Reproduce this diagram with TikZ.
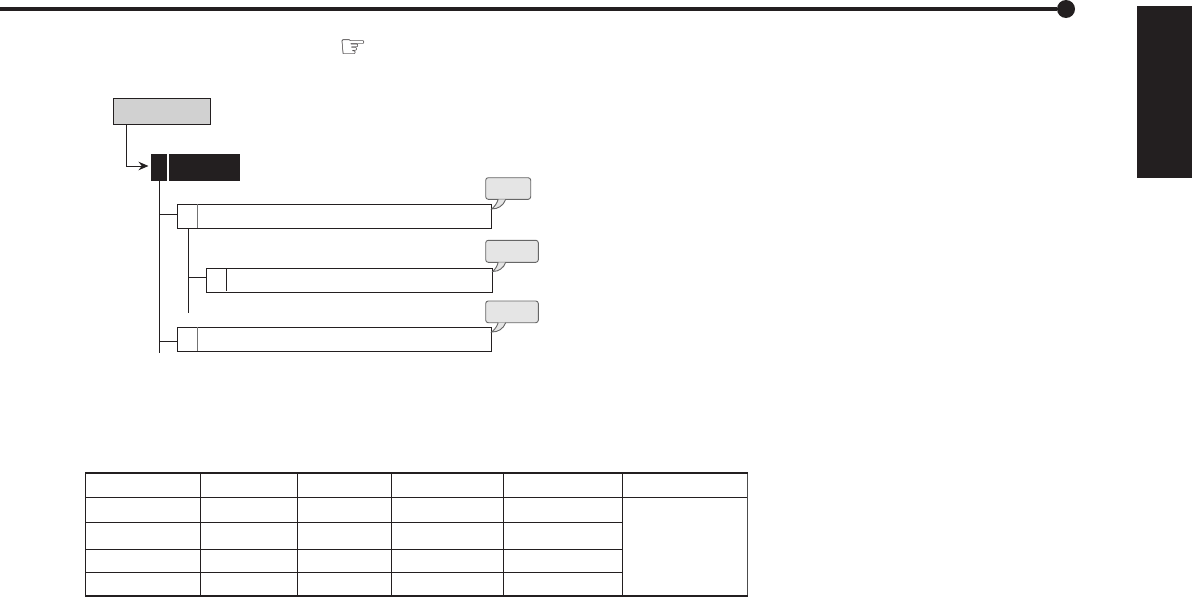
\documentclass[tikz,border=0pt]{standalone}
\usepackage{fontspec}
\newfontfamily\symfont{DejaVu Sans}
\usetikzlibrary{arrows.meta}
\definecolor{ink}{HTML}{231F20}
\tikzset{
	menubox/.style={draw=ink,line width=1pt,fill=white,inner sep=0,outer sep=0,anchor=north west},
	tabbox/.style={fill=ink,inner sep=0,outer sep=0,anchor=north west},
	tipbox/.style={draw=black!60,line width=.9pt,fill=black!10,rounded corners=2.5pt,inner sep=0,outer sep=0,anchor=north west},
	tiptail/.style={draw=black!60,line width=.9pt,fill=black!10},
	branch/.style={draw=ink,line width=1pt},
	rule/.style={draw=ink,line width=.9pt}
}
\begin{document}
\begin{tikzpicture}[x=1pt,y=-1pt]
	\useasboundingbox (0,0) rectangle (1192,597);
	% header
	\fill[ink] (1137,6) rectangle (1192,178);
	\node[circle,fill=ink,inner sep=0,minimum size=18pt] (dot) at (1066,9) {};
	\coordinate (rulestart) at (0,9);
	\draw[ink,line width=3.6pt] (rulestart)--(dot);
	\node[inner sep=0,ink] (hand) at (353.5,49) {\symfont\fontsize{31pt}{31pt}\selectfont ☞};
	% menu tree
	\node[menubox,fill=black!18,minimum width=97pt,minimum height=26pt] (top) at (113,98) {};
	\node[tabbox,minimum width=16pt,minimum height=27pt] (tabnum) at (151,154) {};
	\node[tabbox,minimum width=71pt,minimum height=27pt] (tabname) at (169,154) {};
	\node[menubox,minimum width=314.7pt,minimum height=24pt] (itemA) at (177,204) {};
	\node[menubox,minimum width=286.7pt,minimum height=24pt] (itemB) at (206,268) {};
	\node[menubox,minimum width=314.7pt,minimum height=24pt] (itemC) at (177,327) {};
	\draw[branch,-{Stealth[length=10pt,width=8.5pt]}] ([xshift=13.5pt]top.south west) |- ([xshift=-2.5pt,yshift=1.5pt]tabnum.west);
	\coordinate (trunkend) at (159.5,353);
	\coordinate (subend) at (188.3,313);
	\draw[branch] (tabnum.south -| trunkend)--(trunkend);
	\draw[branch] (itemA.south -| subend)--(subend);
	\draw[branch] (itemA.west |- 0,214.5)--(159.5,214.5);
	\draw[branch] (itemB.west |- 0,277.5)--(188.3,277.5);
	\draw[branch] (itemC.west |- 0,341)--(159.5,341);
	\draw[black!55,line width=1pt] ([xshift=20pt]itemA.north west)--([xshift=20pt]itemA.south west);
	\draw[ink,line width=1pt] ([xshift=20pt,yshift=-.5pt]itemB.north west)--([xshift=20pt,yshift=1pt]itemB.south west);
	\draw[black!55,line width=1pt] ([xshift=20pt]itemC.north west)--([xshift=20pt]itemC.south west);
	% callouts
	\node[tipbox,minimum width=45pt,minimum height=21.6pt] (tipA) at (485.7,177.7) {};
	\node[tipbox,minimum width=52.6pt,minimum height=22pt] (tipB) at (485.7,240.3) {};
	\node[tipbox,minimum width=52.6pt,minimum height=21.7pt] (tipC) at (485.7,301) {};
	\foreach \tip/\item/\drop in {tipA/itemA/5,tipB/itemB/3.5,tipC/itemC/5}
		\draw[tiptail] ([xshift=12.5pt]\tip.south west) to[bend left=15] ([yshift=-\drop pt]\item.north east) to[bend right=35] ([xshift=20pt]\tip.south west);
	% table
	\foreach \cx in {200.7,297.3,391.3,503.3,622.3}
		\draw[rule] (\cx,472.7)--(\cx,595.7);
	\draw[rule] (85.7,497.3)--(747.7,497.3);
	\foreach \ry in {522.3,549.3,572.3}
		\draw[rule] (85.7,\ry)--(622.3,\ry);
	\draw[ink,line width=1pt] (85.7,472.7)--(85.7,595.7);
	\draw[black!70,line width=1.4pt] (747.7,472.7)--(747.7,595.7);
	\draw[ink,line width=1.7pt] (85,472.7)--(748.4,472.7);
	\draw[ink,line width=2pt] (85,595.7)--(748.4,595.7);
\end{tikzpicture}
\end{document}
